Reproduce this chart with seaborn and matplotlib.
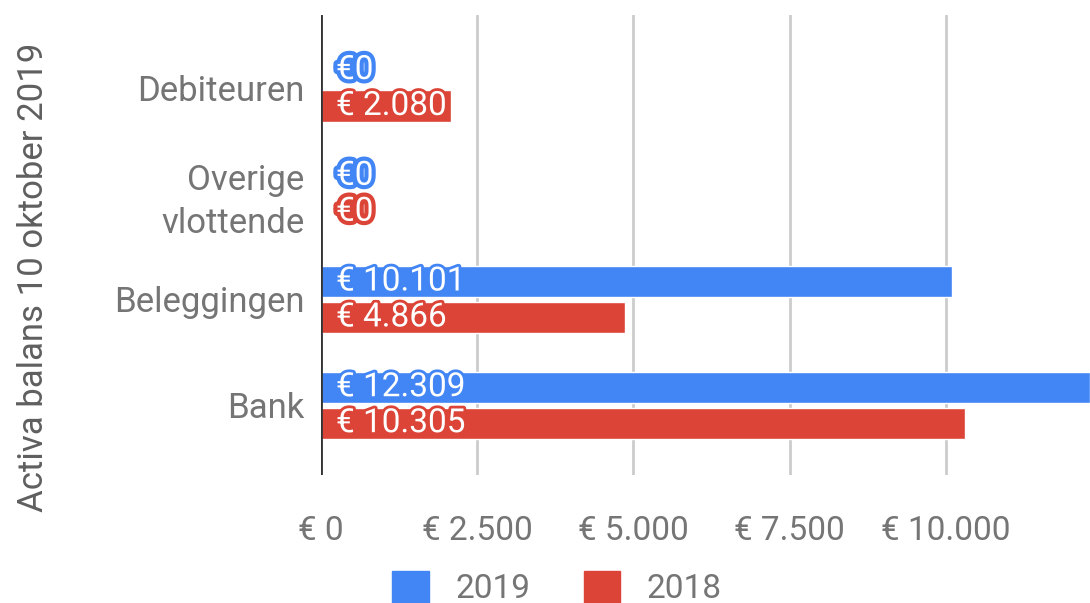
import pandas as pd
import numpy as np
import matplotlib.pyplot as plt
import matplotlib.patheffects as pe
import seaborn as sns

# chart data
categories = ['Debiteuren', 'Overige\nvlottende', 'Beleggingen', 'Bank']
years = ['2019', '2018']
values_2019 = [0, 0, 10101, 12309]
values_2018 = [2080, 0, 4866, 10305]
xticks = [0, 2500, 5000, 7500, 10000]
xtick_labels = ['€ 0', '€ 2.500', '€ 5.000', '€ 7.500', '€ 10.000']

colors = {'2019': '#4285F4', '2018': '#DB4437'}

df = pd.DataFrame({
    'Categorie': categories * 2,
    'Jaar': ['2019'] * 4 + ['2018'] * 4,
    'Waarde': values_2019 + values_2018,
})

sns.set_style('white')
plt.rcParams['font.family'] = ['Roboto', 'DejaVu Sans']

fig = plt.figure(figsize=(10.9, 6.03), dpi=100)
ax = fig.add_axes([321 / 1090, 1 - 475 / 603, 1 - 321 / 1090, 460 / 603])

sns.barplot(data=df, y='Categorie', x='Waarde', hue='Jaar', hue_order=years,
            order=categories, palette=colors, orient='h', width=0.68,
            saturation=1, ax=ax, legend=False)

# slimmer bars with a small gap between the two years
for container in ax.containers:
    for bar in container:
        c = bar.get_y() + bar.get_height() / 2
        bar.set_height(0.295)
        bar.set_y(c - 0.1475)

# labels inside the bars
for container, year in zip(ax.containers, years):
    col = colors[year]
    for bar, val in zip(container, df[df['Jaar'] == year]['Waarde']):
        if val == 0:
            txt = '€0'
            lw = 6
        else:
            txt = '€ ' + f'{val:,}'.replace(',', '.')
            lw = 4
        y = bar.get_y() + bar.get_height() / 2
        ax.text(240, y, txt, ha='left', va='center', color='white', fontsize=24,
                path_effects=[pe.Stroke(linewidth=lw, foreground=col), pe.Normal()])

ax.set_xlim(0, 12309)
ax.set_ylim(3.66, -0.69)
ax.set_xticks(xticks)
ax.set_xticklabels(xtick_labels)
ax.grid(axis='x', color='#cccccc', linewidth=2)
ax.set_axisbelow(True)
ax.axvline(0, color='#333333', linewidth=2, zorder=3)
for s in ax.spines.values():
    s.set_visible(False)

ax.tick_params(axis='x', length=0, pad=29, labelsize=24, labelcolor='#757575')
ax.tick_params(axis='y', length=0, pad=12, labelsize=25, labelcolor='#757575')
for lab in ax.get_yticklabels():
    lab.set_horizontalalignment('right')
    lab.set_linespacing(1.38)

ax.set_xlabel('')
ax.set_ylabel('Activa balans 10 oktober 2019', fontsize=25, color='#5f5f5f')
ax.yaxis.set_label_coords(-0.352, 0.43)

handles = [plt.Rectangle((0, 0), 1, 1, color=colors[y]) for y in years]
fig.legend(handles, years, loc='center', bbox_to_anchor=(557 / 1090, 1 - 588 / 603),
           ncol=2, frameon=False, fontsize=24, labelcolor='#757575',
           handlelength=1.1, handleheight=1.1, columnspacing=1.6, handletextpad=0.8)

plt.savefig('out.png', dpi=100)
